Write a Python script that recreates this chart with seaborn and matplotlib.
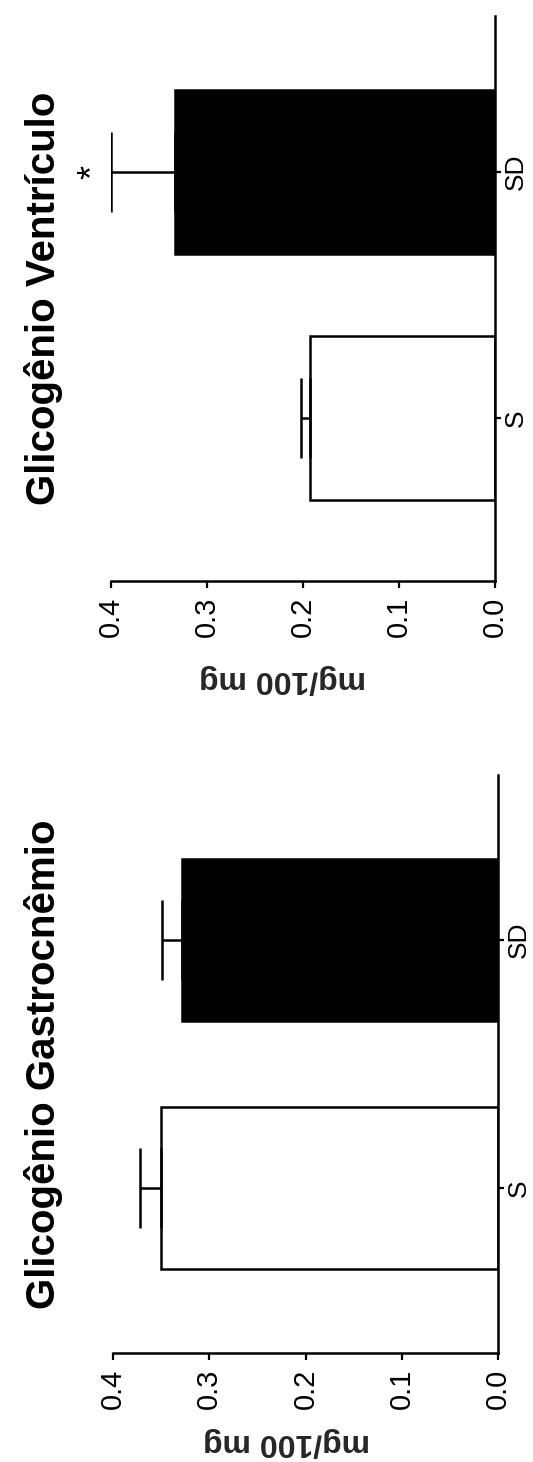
import matplotlib
matplotlib.use("Agg")
import matplotlib.pyplot as plt
import matplotlib.transforms as mtransforms
import seaborn as sns
import numpy as np

# ---- data ----
categories = ["S", "SD"]
bar_colors = ["white", "black"]
gastro_values = [0.350, 0.328]
gastro_sem = [0.022, 0.021]
ventri_values = [0.1925, 0.333]
ventri_sem = [0.0095, 0.067]
value_ticks = [0.0, 0.1, 0.2, 0.3, 0.4]
value_ticklabels = ["0.0", "0.1", "0.2", "0.3", "0.4"]
titles = ["Glicogênio Ventrículo", "Glicogênio Gastrocnêmio"]
unit_label = "mg/100 mg"
sig_marks = ["", "*"]  # ventrículo markers per category

sns.set_theme(style="ticks")
plt.rcParams["font.family"] = ["Liberation Sans", "DejaVu Sans"]

W, H = 533, 1462
fig = plt.figure(figsize=(W / 100, H / 100), dpi=100)
fig.patch.set_facecolor("white")


def px_axes(x0, x1, y0, y1):
    return fig.add_axes([x0 / W, (H - y1) / H, (x1 - x0) / W, (y1 - y0) / H])


def draw_panel(ax, values, sem, title, ylim, xlabel_x, xlabel_y, bar_h):
    sns.barplot(x=values, y=categories, hue=categories, palette=bar_colors,
                order=categories, hue_order=categories, orient="h",
                edgecolor="black", linewidth=1.8, width=bar_h,
                errorbar=None, legend=False, ax=ax)
    pos = np.arange(len(categories))
    ax.errorbar(values, pos, xerr=[np.zeros(len(values)), sem], fmt="none",
                ecolor="black", elinewidth=1.8, capsize=28.8, capthick=1.8,
                zorder=1)
    ax.set_xlim(0.4, 0.0)
    ax.set_ylim(*ylim)
    ax.set_xticks(value_ticks)
    ax.set_xticklabels(value_ticklabels)
    ax.yaxis.tick_right()
    for s in ["left", "top"]:
        ax.spines[s].set_visible(False)
    for s in ["right", "bottom"]:
        ax.spines[s].set_linewidth(1.8)
        ax.spines[s].set_color("black")
    ax.tick_params(axis="x", direction="out", length=5, width=1.6,
                   labelsize=21, labelrotation=90, pad=6, colors="black")
    ax.tick_params(axis="y", direction="out", length=4, width=1.6,
                   labelsize=19, labelrotation=90, pad=2.5, colors="black")
    for lab in ax.get_yticklabels():
        lab.set_va("center")
    ax.set_ylabel("")
    ax.set_xlabel(unit_label, rotation=180, fontsize=23, fontweight="bold")
    ax.xaxis.set_label_coords(xlabel_x, xlabel_y)
    ax.xaxis.label.set_va("top")
    trans = mtransforms.blended_transform_factory(fig.transFigure, ax.transAxes)
    ax.text(55 / W, 0.5, title, transform=trans, rotation=90,
            rotation_mode="anchor", ha="center", va="baseline",
            fontsize=29, fontweight="bold", color="black")
    ax.set_facecolor("white")


# top panel: Glicogênio Ventrículo
ax_top = px_axes(110.5, 495, 16, 581)
draw_panel(ax_top, ventri_values, ventri_sem, titles[0], (-0.663, 1.634),
           (282 - 110.5) / (495 - 110.5), (581 - 664) / 565, 0.67)
for i, m in enumerate(sig_marks):
    if m:
        ax_top.text(ventri_values[i] + ventri_sem[i] + 0.017, i, m,
                    rotation=90, rotation_mode="anchor", ha="center",
                    va="center", fontsize=26, color="black", clip_on=False)

# bottom panel: Glicogênio Gastrocnêmio
ax_bot = px_axes(113, 498, 775, 1353)
draw_panel(ax_bot, gastro_values, gastro_sem, titles[1], (-0.665, 1.665),
           (287 - 113) / (498 - 113), (1353 - 1427) / 578, 0.65)

fig.savefig("out.png", dpi=100, facecolor="white")
